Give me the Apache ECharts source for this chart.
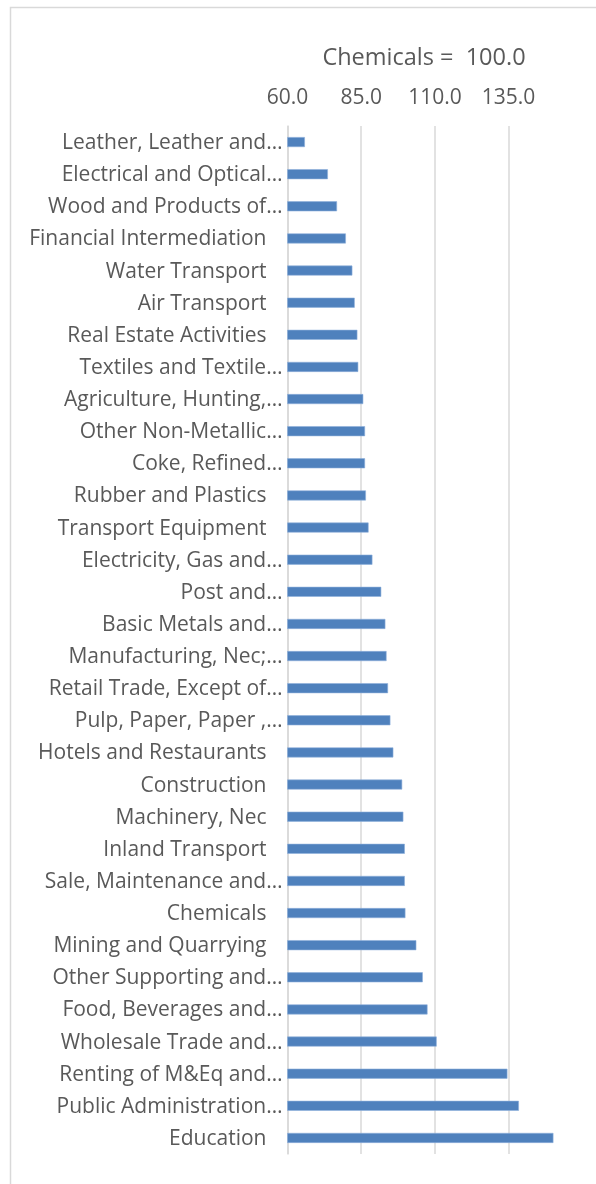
<!DOCTYPE html>
<html>
<head>
<meta charset="utf-8">
<script src="https://cdn.jsdelivr.net/npm/echarts@6/dist/echarts.min.js"></script>
<style>
html,body{margin:0;padding:0;background:#fff;}
#c{width:596px;height:1184px;}
</style>
</head>
<body>
<div id="c"></div>
<script>
const categories = [
  "Leather, Leather and…", "Electrical and Optical…", "Wood and Products of…",
  "Financial Intermediation", "Water Transport", "Air Transport",
  "Real Estate Activities", "Textiles and Textile…", "Agriculture, Hunting,…",
  "Other Non-Metallic…", "Coke, Refined…", "Rubber and Plastics",
  "Transport Equipment", "Electricity, Gas and…", "Post and…",
  "Basic Metals and…", "Manufacturing, Nec;…", "Retail Trade, Except of…",
  "Pulp, Paper, Paper ,…", "Hotels and Restaurants", "Construction",
  "Machinery, Nec", "Inland Transport", "Sale, Maintenance and…",
  "Chemicals", "Mining and Quarrying", "Other Supporting and…",
  "Food, Beverages and…", "Wholesale Trade and…", "Renting of M&Eq and…",
  "Public Administration…", "Education"
];
const values = [
  65.9, 73.7, 76.8, 79.8, 82.0, 82.8, 83.7, 84.0, 85.7, 86.3, 86.3, 86.6,
  87.5, 88.8, 91.8, 93.2, 93.6, 94.1, 94.9, 95.9, 98.9, 99.3, 99.8, 99.8,
  100.0, 103.7, 105.9, 107.5, 110.6, 134.6, 138.5, 150.2
];
const axisTitle = "Chemicals =  100.0";
const axisMin = 60, axisMax = 160, axisStep = 25;

const FONT = "Open Sans";
const TXT = "#595959";
const chart = echarts.init(document.getElementById('c'), null, {renderer: 'canvas'});
chart.setOption({
  animation: false,
  backgroundColor: '#fff',
  title: {
    text: axisTitle,
    left: 419, top: 41, textAlign: 'center',
    textStyle: {fontFamily: FONT, fontSize: 23.5, fontWeight: 'normal', color: TXT}
  },
  graphic: [{
    type: 'rect', silent: true,
    shape: {x: 10.5, y: 7.5, width: 800, height: 1400},
    style: {fill: 'none', stroke: '#d9d9d9', lineWidth: 1.5}
  }],
  grid: {left: 287.5, right: 13.7, top: 126, bottom: 30, containLabel: false},
  xAxis: {
    type: 'value', position: 'top',
    min: axisMin, max: axisMax, interval: axisStep,
    axisLine: {show: false}, axisTick: {show: false},
    axisLabel: {
      fontFamily: FONT, fontSize: 21, color: TXT, margin: 17,
      showMaxLabel: false,
      formatter: v => v.toFixed(1)
    },
    splitLine: {show: true, showMaxLine: false, lineStyle: {color: '#d9d9d9', width: 1.5}}
  },
  yAxis: {
    type: 'category', data: categories, inverse: true,
    axisLine: {show: true, lineStyle: {color: '#d9d9d9', width: 1.5}},
    axisTick: {show: false},
    axisLabel: {
      margin: 5, interval: 0,
      fontFamily: FONT, fontSize: 21, color: TXT,
      formatter: v => v.endsWith('…') ? '{e|' + v + '}' : '{n|' + v + '}',
      rich: {
        e: {fontFamily: FONT, fontSize: 21, color: TXT, padding: [2, 0, 0, 0]},
        n: {fontFamily: FONT, fontSize: 21, color: TXT, padding: [2, 16, 0, 0]}
      }
    }
  },
  series: [{
    type: 'bar', data: values, barWidth: 10,
    itemStyle: {color: '#4f81bd', borderColor: '#8fb0dc', borderWidth: 0.6}
  }]
});
</script>
</body>
</html>
